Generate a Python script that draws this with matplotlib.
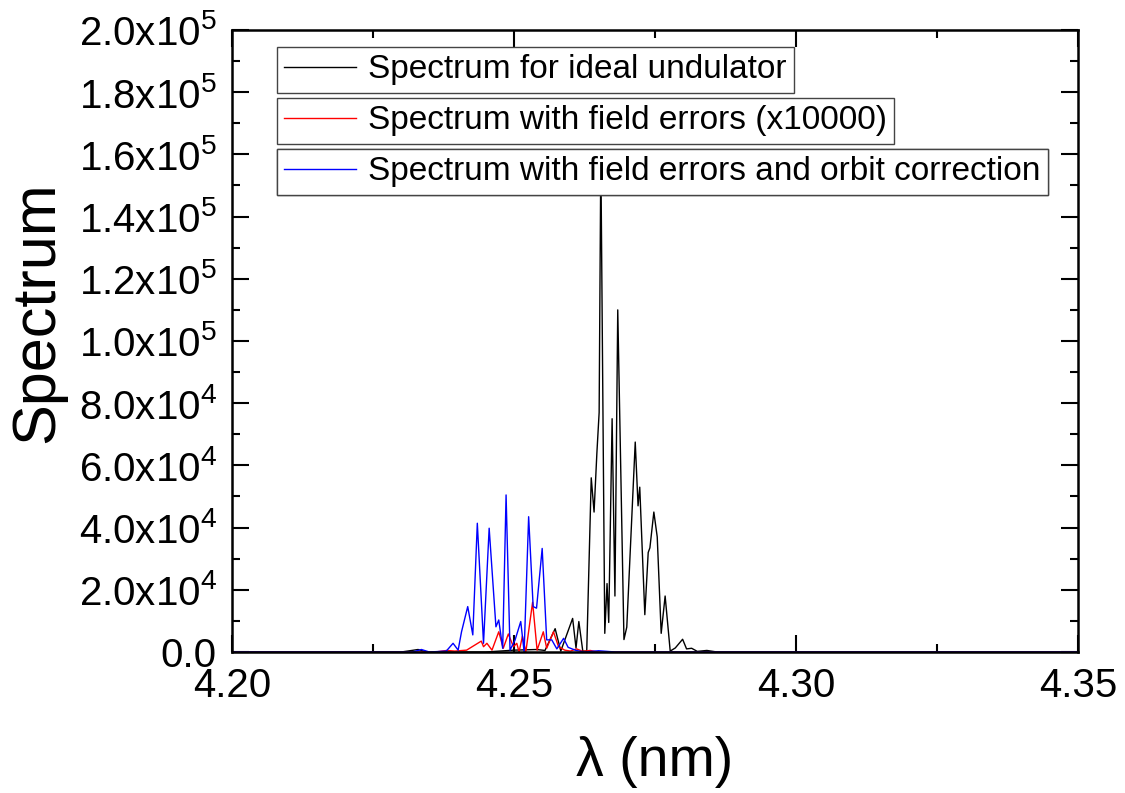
import matplotlib
matplotlib.use('Agg')
import matplotlib.pyplot as plt
import numpy as np
from matplotlib.ticker import FuncFormatter, MultipleLocator

plt.rcParams['font.family'] = ['Liberation Sans', 'DejaVu Sans']
plt.rcParams['mathtext.default'] = 'regular'

# ideal undulator spectrum (values in units of 1e3)
lam_ideal = [4.2000, 4.2300, 4.2330, 4.2345, 4.2450, 4.2500, 4.2540, 4.2555,
             4.2573, 4.2583, 4.2604, 4.2610, 4.2615, 4.2622, 4.2629, 4.2637,
             4.2642, 4.2647, 4.2651, 4.2654, 4.2661, 4.2665, 4.2668, 4.2674,
             4.2679, 4.2684, 4.2695, 4.2700, 4.2715, 4.2720, 4.2723, 4.2732,
             4.2738, 4.2741, 4.2748, 4.2754, 4.2761, 4.2768, 4.2777, 4.2786,
             4.2799, 4.2806, 4.2815, 4.2825, 4.2842, 4.2860, 4.3500]
spec_ideal = [0, 0, 0.8, 0, 0, 0.6, 0.8, 0.5,
              7.5, 0.3, 10.8, 1.3, 9.8, 0.3, 0.3, 56,
              45, 64, 77, 160, 6, 22, 9.5, 75,
              18, 110, 4, 8, 67.5, 47, 53, 12,
              32, 33.5, 45, 37, 6, 18, 0.3, 1.3,
              4.1, 1, 1.2, 0.2, 0.5, 0, 0]

# spectrum with field errors (x10000)
lam_err = [4.2000, 4.2360, 4.2381, 4.2395, 4.2416, 4.2442, 4.2446, 4.2452,
           4.2461, 4.2473, 4.2481, 4.2490, 4.2499, 4.2505, 4.2509, 4.2515,
           4.2521, 4.2533, 4.2541, 4.2552, 4.2558, 4.2570, 4.2579, 4.2590,
           4.2600, 4.2611, 4.2622, 4.2635, 4.2650, 4.3500]
spec_err = [0, 0, 0.5, 0.3, 0.6, 3.5, 1.7, 2.8,
            0.6, 6.5, 1.2, 5.8, 1.7, 2.8, 0, 5.1,
            0, 16, 0.6, 6.5, 1.2, 6.5, 1.7, 0.6,
            0.3, 1, 0.2, 0.5, 0, 0]

# spectrum with field errors and orbit correction
lam_corr = [4.2000, 4.2320, 4.2336, 4.2350, 4.2380, 4.2392, 4.2401, 4.2407,
            4.2418, 4.2427, 4.2435, 4.2446, 4.2456, 4.2468, 4.2473, 4.2480,
            4.2486, 4.2493, 4.2502, 4.2512, 4.2518, 4.2526, 4.2534, 4.2540,
            4.2550, 4.2558, 4.2567, 4.2576, 4.2588, 4.2596, 4.2610, 4.2625,
            4.2650, 4.2680, 4.3500]
spec_corr = [0, 0, 0.8, 0, 0.3, 2.8, 0.6, 6.5,
             14.6, 5.5, 41.4, 2.8, 39.8, 8.1, 10.3, 1.2,
             50.5, 0.6, 3.9, 9.8, 0, 43.5, 14.6, 14.1,
             33.3, 3.9, 3.9, 1, 4.4, 1.5, 0.5, 0,
             0.4, 0, 0]

labels = ['Spectrum for ideal undulator',
          'Spectrum with field errors (x10000)',
          'Spectrum with field errors and orbit correction']

fig = plt.figure(figsize=(11.25, 7.93), dpi=100)
ax = fig.add_axes([0.2062, 0.1778, 0.752, 0.7844])

l1, = ax.plot(lam_ideal, np.array(spec_ideal) * 1e3, color='black', lw=1)
l2, = ax.plot(lam_err, np.array(spec_err) * 1e3, color='red', lw=1)
l3, = ax.plot(lam_corr, np.array(spec_corr) * 1e3, color='blue', lw=1)

ax.set_xlim(4.20, 4.35)
ax.set_ylim(0, 2.0e5)
ax.xaxis.set_major_locator(MultipleLocator(0.05))
ax.xaxis.set_minor_locator(MultipleLocator(0.025))
ax.yaxis.set_major_locator(MultipleLocator(2e4))
ax.yaxis.set_minor_locator(MultipleLocator(1e4))
ax.xaxis.set_major_formatter(FuncFormatter(lambda v, p: '%.2f' % v))


def yfmt(v, pos):
    if v <= 0:
        return '0.0'
    e = int(np.floor(np.log10(v) + 1e-9))
    return r'$%.1fx10^{%d}$' % (v / 10**e, e)


ax.yaxis.set_major_formatter(FuncFormatter(yfmt))

ax.tick_params(which='both', direction='in', top=True, right=True, width=1.5,
               labelsize=29)
ax.tick_params(which='major', length=12)
ax.tick_params(which='minor', length=6)
ax.tick_params(axis='x', pad=11)
ax.tick_params(axis='y', pad=11)
for s in ax.spines.values():
    s.set_linewidth(1.8)

ax.set_ylabel('Spectrum', fontsize=44)
ax.yaxis.set_label_coords(-0.196, 0.547)
ax.set_xlabel('λ (nm)', fontsize=40, labelpad=22)

tops = [0.9727, 0.8907, 0.8087]
for line, lab, yt in zip([l1, l2, l3], labels, tops):
    leg = ax.legend([line], [lab], loc='upper left', bbox_to_anchor=(0.053, yt),
                    borderaxespad=0, fontsize=24, fancybox=False, framealpha=1,
                    borderpad=0.22, handlelength=2.15, handletextpad=0.36)
    leg.get_frame().set_edgecolor('#444444')
    leg.get_frame().set_linewidth(1.0)
    ax.add_artist(leg)

plt.savefig('out.png', dpi=100)
